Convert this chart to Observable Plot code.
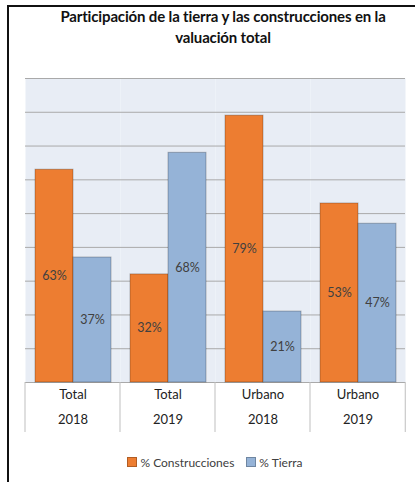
<!DOCTYPE html>
<html>
<head>
<meta charset="utf-8">
<script src="https://cdn.jsdelivr.net/npm/d3@7"></script>
<script src="https://cdn.jsdelivr.net/npm/@observablehq/plot@0.6"></script>
<style>
  html, body { margin: 0; padding: 0; background: #fff; }
  #wrap { position: relative; width: 415px; height: 482px; overflow: hidden; font-family: Lato, "Open Sans", sans-serif; }
  #border { position: absolute; left: 7px; top: 5px; width: 500px; height: 600px; border-left: 2.5px solid #111; border-top: 2.5px solid #111; box-sizing: border-box; }
  #title { position: absolute; left: 20px; width: 406px; top: 6px; text-align: center; font-weight: bold; font-size: 15px; line-height: 21px; color: #111; letter-spacing: -0.15px; }
  #chart { position: absolute; left: 0; top: 0; }
  #legend { position: absolute; top: 455px; left: 0; width: 430px; text-align: center; font-size: 12px; color: #404040; }
  #legend span.item { margin: 0 6px; }
  #legend span.sw { display: inline-block; width: 8px; height: 8px; margin-right: 3px; vertical-align: 0px; }
</style>
</head>
<body>
<div id="wrap">
  <div id="border"></div>
  <div id="title"></div>
  <div id="chart"></div>
  <div id="legend"></div>
</div>
<script>
const titleLines = ["Participación de la tierra y las construcciones en la", "valuación total"];
const groups = ["Total 2018", "Total 2019", "Urbano 2018", "Urbano 2019"];
const groupLine1 = ["Total", "Total", "Urbano", "Urbano"];
const groupLine2 = ["2018", "2019", "2018", "2019"];
const series = ["% Construcciones", "% Tierra"];
const construcciones = [0.63, 0.32, 0.79, 0.53];
const tierra = [0.37, 0.68, 0.21, 0.47];
const yTicks = [0, 0.1, 0.2, 0.3, 0.4, 0.5, 0.6, 0.7, 0.8, 0.9];
const colors = ["#ed7d31", "#95b3d7"];

document.getElementById("title").innerHTML = titleLines.join("<br>");

const data = [];
groups.forEach((g, i) => {
  data.push({group: g, series: series[0], value: construcciones[i]});
  data.push({group: g, series: series[1], value: tierra[i]});
});
const groupData = groups.map((g, i) => ({group: g, l1: groupLine1[i], l2: groupLine2[i]}));

const plot = Plot.plot({
  width: 415,
  height: 440,
  marginLeft: 24,
  marginRight: 10,
  marginTop: 78,
  marginBottom: 58,
  style: {fontFamily: "Lato, 'Open Sans', sans-serif", background: "transparent", overflow: "visible"},
  fx: {domain: groups, padding: 0, axis: null},
  x: {domain: series, paddingInner: 0, paddingOuter: 0.22, axis: null},
  y: {domain: [0, 0.9], axis: null},
  color: {domain: series, range: colors},
  marks: [
    Plot.frame({fill: "#e8edf5"}),
    Plot.ruleY(yTicks, {stroke: "#a9a9a9", strokeWidth: 1}),
    Plot.barY(data, {fx: "group", x: "series", y: "value", fill: "series", stroke: "#000", strokeOpacity: 0.25, strokeWidth: 1}),
    Plot.text(data, {fx: "group", x: "series", y: d => d.value / 2, text: d => Math.round(d.value * 100) + "%", fill: "#404040", fontSize: 12.5}),
    Plot.text(groupData, {fx: "group", frameAnchor: "bottom", dy: 16, text: "l1", fill: "#222", fontSize: 13}),
    Plot.text(groupData, {fx: "group", frameAnchor: "bottom", dy: 41, text: "l2", fill: "#222", fontSize: 13})
  ]
});
document.getElementById("chart").appendChild(plot);

// table separators below the categories, positioned via the fx scale
const fx = plot.scale("fx");
const step = (fx.range[1] - fx.range[0]) / groups.length;
const pos = groups.map((g, i) => fx.apply ? fx.apply(g) : fx.range[0] + i * step);
pos.push(pos[pos.length - 1] + step);
const yS = plot.scale("y");
const y0 = yS.apply ? yS.apply(0) : 382;
d3.select(plot).append("g")
  .selectAll("line").data(pos).join("line")
  .attr("x1", d => d).attr("x2", d => d)
  .attr("y1", y0).attr("y2", y0 + 50)
  .attr("stroke", "#bfbfbf").attr("stroke-width", 1);

const legend = d3.select("#legend");
series.forEach((s, i) => {
  const it = legend.append("span").attr("class", "item");
  it.append("span").attr("class", "sw").style("background", colors[i]).style("border", "0.5px solid rgba(0,0,0,0.25)");
  it.append("span").text(s);
});
</script>
</body>
</html>
